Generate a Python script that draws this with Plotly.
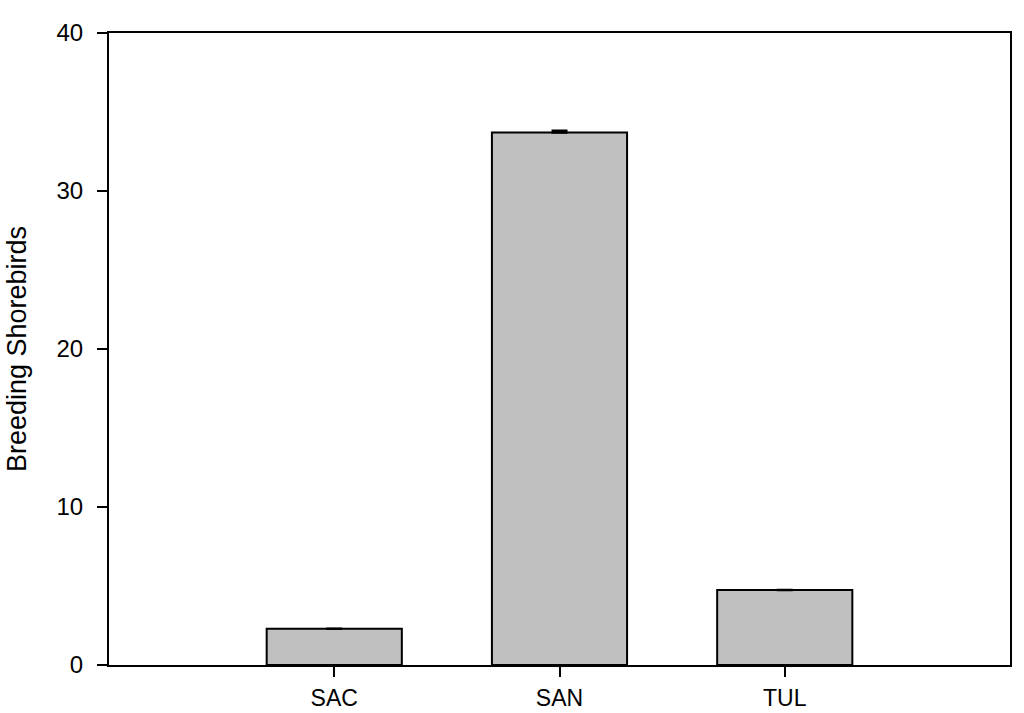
import plotly.graph_objects as go

sites = ["SAC", "SAN", "TUL"]
means = [2.3, 33.7, 4.75]
errs_up = [0, 0.12, 0]

FONT = "Arial, 'Liberation Sans', sans-serif"

fig = go.Figure()

fig.add_trace(go.Bar(
    x=sites,
    y=means,
    width=0.6,
    marker=dict(color="#c0c0c0", line=dict(color="black", width=2)),
    error_y=dict(
        type="data",
        symmetric=False,
        array=errs_up,
        arrayminus=[0, 0, 0],
        color="black",
        thickness=2.5,
        width=8,
    ),
))

fig.update_layout(
    width=1024,
    height=713,
    margin=dict(l=109, r=14, t=33, b=48),
    plot_bgcolor="white",
    paper_bgcolor="white",
    showlegend=False,
    font=dict(family=FONT, size=24, color="black"),
    xaxis=dict(
        type="category",
        range=[-1, 3],
        automargin=False,
        showline=True,
        linecolor="black",
        linewidth=2,
        mirror=True,
        ticks="outside",
        ticklen=10,
        tickwidth=2,
        tickcolor="black",
        showgrid=False,
        tickfont=dict(size=23),
        ticklabelstandoff=1,
    ),
    yaxis=dict(
        range=[0, 40],
        tickvals=[0, 10, 20, 30, 40],
        automargin=False,
        showline=True,
        linecolor="black",
        linewidth=2,
        mirror=True,
        ticks="outside",
        ticklen=10,
        tickwidth=2,
        tickcolor="black",
        showgrid=False,
        zeroline=False,
        tickfont=dict(size=24),
        ticklabelstandoff=9,
        title=dict(text="Breeding Shorebirds", font=dict(size=27), standoff=22),
    ),
)

# drop the default body margin so the figure fills the window exactly
fig.write_html(
    "out.html",
    config={"displayModeBar": False},
    post_script="document.body.style.margin='0';document.body.style.overflow='hidden';",
)
